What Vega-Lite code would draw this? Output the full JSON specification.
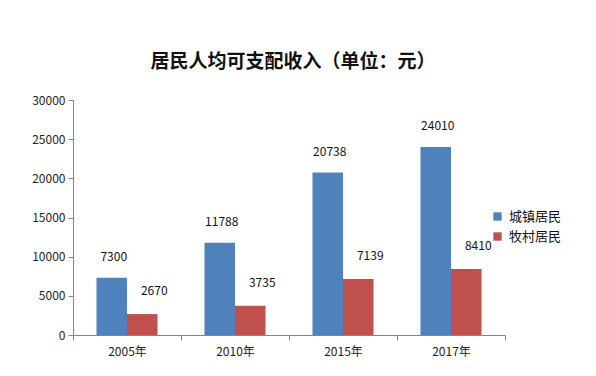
{
  "$schema": "https://vega.github.io/schema/vega-lite/v6.json",
  "width": 432,
  "height": 235,
  "autosize": {"type": "none"},
  "padding": {"left": 73, "top": 100, "right": 91, "bottom": 41},
  "background": "white",
  "config": {
    "view": {"stroke": null},
    "font": "Noto Sans CJK SC"
  },
  "title": {
    "text": "居民人均可支配收入（单位：元）",
    "font": "Noto Sans CJK SC",
    "fontSize": 19,
    "fontWeight": "bold",
    "color": "#111111",
    "anchor": "middle",
    "dx": 4,
    "offset": 22
  },
  "data": {
    "values": [
      {"year": "2005年", "type": "城镇居民", "value": 7300},
      {"year": "2005年", "type": "牧村居民", "value": 2670},
      {"year": "2010年", "type": "城镇居民", "value": 11788},
      {"year": "2010年", "type": "牧村居民", "value": 3735},
      {"year": "2015年", "type": "城镇居民", "value": 20738},
      {"year": "2015年", "type": "牧村居民", "value": 7139},
      {"year": "2017年", "type": "城镇居民", "value": 24010},
      {"year": "2017年", "type": "牧村居民", "value": 8410}
    ]
  },
  "encoding": {
    "x": {
      "field": "year",
      "type": "nominal",
      "sort": null,
      "scale": {"paddingInner": 0, "paddingOuter": 0},
      "axis": {
        "title": null,
        "labelAngle": 0,
        "labelFontSize": 12,
        "labelColor": "#222222",
        "labelPadding": 6,
        "tickBand": "extent",
        "tickSize": 5,
        "tickColor": "#868686",
        "domainColor": "#868686",
        "grid": false
      }
    },
    "xOffset": {
      "field": "type",
      "type": "nominal",
      "scale": {"paddingInner": 0, "paddingOuter": 0.77}
    },
    "y": {
      "field": "value",
      "type": "quantitative",
      "scale": {"domain": [0, 30000], "nice": false},
      "axis": {
        "title": null,
        "values": [0, 5000, 10000, 15000, 20000, 25000, 30000],
        "format": "d",
        "grid": false,
        "labelFontSize": 12,
        "labelColor": "#222222",
        "labelPadding": 3,
        "tickSize": 5,
        "tickColor": "#868686",
        "domainColor": "#868686"
      }
    }
  },
  "layer": [
    {
      "mark": {"type": "bar"},
      "encoding": {
        "color": {
          "field": "type",
          "type": "nominal",
          "scale": {"domain": ["城镇居民", "牧村居民"], "range": ["#4F81BD", "#C0504D"]},
          "legend": {
            "title": null,
            "orient": "none",
            "legendX": 418,
            "legendY": 110,
            "symbolType": "square",
            "symbolSize": 70,
            "labelFontSize": 13,
            "labelColor": "#111111",
            "rowPadding": 6,
            "labelOffset": 5
          }
        }
      }
    },
    {
      "transform": [{"filter": "datum.type === '城镇居民'"}],
      "mark": {"type": "text", "baseline": "alphabetic", "dy": -17, "dx": 2, "fontSize": 12, "color": "#111111"},
      "encoding": {"text": {"field": "value", "type": "quantitative", "format": "d"}}
    },
    {
      "transform": [{"filter": "datum.type === '牧村居民'"}],
      "mark": {"type": "text", "baseline": "alphabetic", "dy": -19, "dx": 12, "fontSize": 12, "color": "#111111"},
      "encoding": {"text": {"field": "value", "type": "quantitative", "format": "d"}}
    }
  ]
}
